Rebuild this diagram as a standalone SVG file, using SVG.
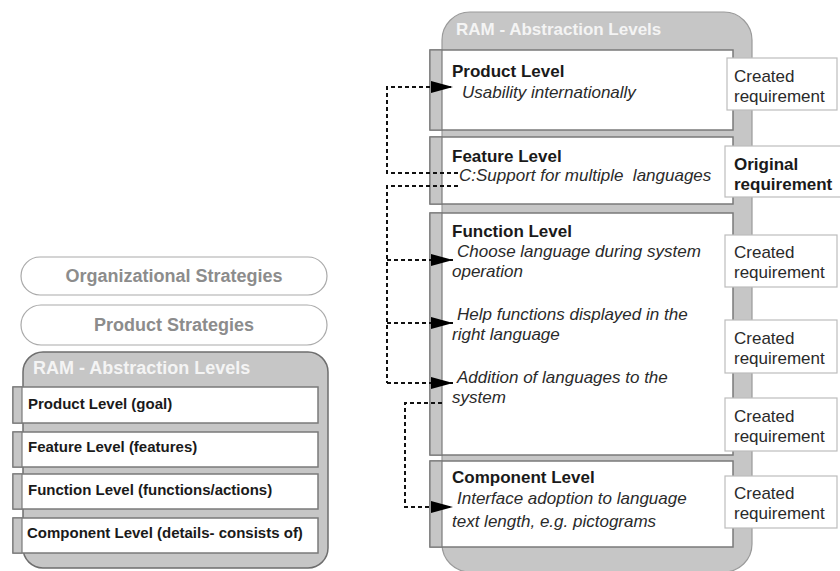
<svg xmlns="http://www.w3.org/2000/svg" width="840" height="571" viewBox="0 0 840 571">
<defs>
<style>
.bg{fill:#fff}
.pill{fill:#fff;stroke:#aaa;stroke-width:1.2}
.pilltxt{font-family:"Liberation Sans",Arial,sans-serif;font-weight:bold;font-size:18px;fill:#8c8c8c;text-anchor:middle}
.ram{fill:#c6c6c6;stroke:#6e6e6e;stroke-width:1.5}
.ramR{fill:#c6c6c6;stroke:#9a9a9a;stroke-width:1.2}
.title{font-family:"Liberation Sans",Arial,sans-serif;font-weight:bold;fill:#f4f4f4}
.row{fill:#fff;stroke:#7a7a7a;stroke-width:1.5}
.tab{fill:#c6c6c6;stroke:#7a7a7a;stroke-width:1.2}
.ltxt{font-family:"Liberation Sans",Arial,sans-serif;font-weight:bold;font-size:15px;fill:#1a1a1a}
.head{font-family:"Liberation Sans",Arial,sans-serif;font-weight:bold;font-size:17px;fill:#1a1a1a}
.it{font-family:"Liberation Sans",Arial,sans-serif;font-style:italic;font-size:17px;fill:#2a2a2a}
.lab{fill:#fff;stroke:#bdbdbd;stroke-width:1.2}
.labtxt{font-family:"Liberation Sans",Arial,sans-serif;font-size:17px;fill:#2a2a2a}
.labb{font-family:"Liberation Sans",Arial,sans-serif;font-weight:bold;font-size:17px;fill:#1a1a1a}
.con{fill:none;stroke:#111;stroke-width:2;stroke-dasharray:4 3}
</style>
<marker id="ah" markerUnits="userSpaceOnUse" markerWidth="24" markerHeight="14" refX="22" refY="6" orient="auto">
<path d="M0,0 L22,6 L0,12 z" fill="#000"/>
</marker>
</defs>
<rect class="bg" x="0" y="0" width="840" height="571"/>

<g id="left">
<g id="org-strategies">
<rect class="pill" x="21" y="257" width="306" height="38" rx="19"/>
<text class="pilltxt" x="174" y="282">Organizational Strategies</text>
</g>
<g id="product-strategies">
<rect class="pill" x="21" y="305" width="306" height="40" rx="20"/>
<text class="pilltxt" x="174" y="331">Product Strategies</text>
</g>
<g id="ram-left">
<rect class="ram" x="23" y="352" width="305" height="216" rx="20"/>
<text class="title" x="33" y="374" font-size="18">RAM - Abstraction Levels</text>
</g>
<g id="l-product">
<rect class="row" x="13" y="387" width="305" height="36"/>
<rect class="tab" x="13" y="387" width="9" height="36"/>
<text class="ltxt" x="28" y="409">Product Level (goal)</text>
</g>
<g id="l-feature">
<rect class="row" x="13" y="432" width="305" height="35"/>
<rect class="tab" x="13" y="432" width="9" height="35"/>
<text class="ltxt" x="28" y="452">Feature Level (features)</text>
</g>
<g id="l-function">
<rect class="row" x="13" y="474" width="305" height="35"/>
<rect class="tab" x="13" y="474" width="9" height="35"/>
<text class="ltxt" x="28" y="495">Function Level (functions/actions)</text>
</g>
<g id="l-component">
<rect class="row" x="13" y="518" width="305" height="35"/>
<rect class="tab" x="13" y="518" width="9" height="35"/>
<text class="ltxt" x="27" y="538">Component Level (details- consists of)</text>
</g>
</g>

<g id="right">
<g id="ram-right">
<rect class="ramR" x="442" y="12" width="310" height="560" rx="28"/>
<text class="title" x="456" y="35" font-size="17">RAM - Abstraction Levels</text>
</g>
<g id="r-product">
<rect class="row" x="430" y="50" width="303" height="80"/>
<rect class="tab" x="430" y="50" width="12" height="80"/>
<text class="head" x="452" y="77">Product Level</text>
<text class="it" x="462" y="98">Usability internationally</text>
</g>
<g id="r-feature">
<rect class="row" x="430" y="137" width="303" height="67"/>
<rect class="tab" x="430" y="137" width="12" height="67"/>
<text class="head" x="452" y="162">Feature Level</text>
<text class="it" x="459" y="181" xml:space="preserve">C:Support for multiple  languages</text>
</g>
<g id="r-function">
<rect class="row" x="430" y="213" width="303" height="242"/>
<rect class="tab" x="430" y="213" width="12" height="242"/>
<text class="head" x="452" y="237">Function Level</text>
<text class="it" x="457" y="257">Choose language during system</text>
<text class="it" x="452" y="277">operation</text>
<text class="it" x="457" y="320">Help functions displayed in the</text>
<text class="it" x="452" y="340">right language</text>
<text class="it" x="457" y="383">Addition of languages to the</text>
<text class="it" x="452" y="403">system</text>
</g>
<g id="r-component">
<rect class="row" x="430" y="461" width="303" height="86"/>
<rect class="tab" x="430" y="461" width="12" height="86"/>
<text class="head" x="452" y="483">Component Level</text>
<text class="it" x="457" y="504">Interface adoption to language</text>
<text class="it" x="452" y="527">text length, e.g. pictograms</text>
</g>

<g id="lab-product">
<rect class="lab" x="727" y="58" width="110" height="52"/>
<text class="labtxt" x="734" y="82">Created</text>
<text class="labtxt" x="734" y="102">requirement</text>
</g>
<g id="lab-feature">
<rect class="lab" x="725" y="146" width="120" height="51"/>
<text class="labb" x="734" y="170">Original</text>
<text class="labb" x="734" y="190">requirement</text>
</g>
<g id="lab-func1">
<rect class="lab" x="725" y="235" width="112" height="52"/>
<text class="labtxt" x="734" y="258">Created</text>
<text class="labtxt" x="734" y="278">requirement</text>
</g>
<g id="lab-func2">
<rect class="lab" x="725" y="320" width="112" height="53"/>
<text class="labtxt" x="734" y="344">Created</text>
<text class="labtxt" x="734" y="364">requirement</text>
</g>
<g id="lab-func3">
<rect class="lab" x="725" y="398" width="112" height="53"/>
<text class="labtxt" x="734" y="422">Created</text>
<text class="labtxt" x="734" y="442">requirement</text>
</g>
<g id="lab-comp">
<rect class="lab" x="725" y="476" width="112" height="52"/>
<text class="labtxt" x="734" y="499">Created</text>
<text class="labtxt" x="734" y="519">requirement</text>
</g>
</g>

<g id="connectors">
<path class="con" d="M458,173 H387 V87 H453" marker-end="url(#ah)"/>
<path class="con" d="M458,186 H387 V383"/>
<path class="con" d="M387,260 H453" marker-end="url(#ah)"/>
<path class="con" d="M387,323 H453" marker-end="url(#ah)"/>
<path class="con" d="M387,383 H453" marker-end="url(#ah)"/>
<path class="con" d="M442,403 H405 V507 H453" marker-end="url(#ah)"/>
</g>
</svg>
